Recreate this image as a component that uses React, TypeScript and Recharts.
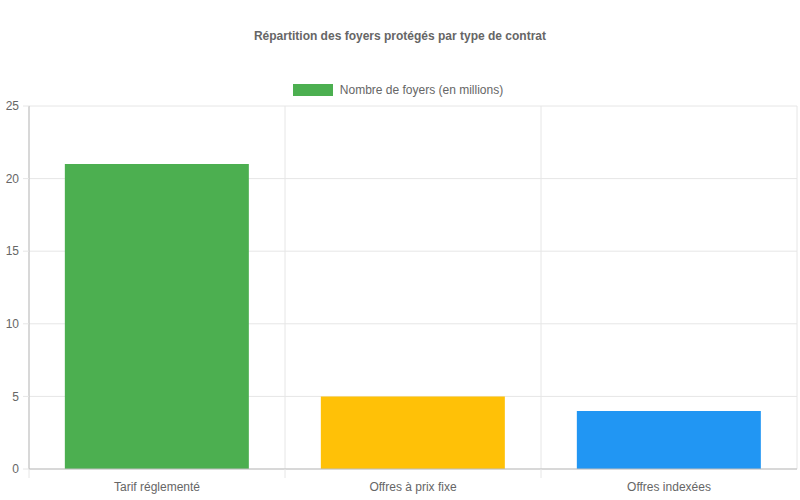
import React from 'react';
import { BarChart, Bar, XAxis, YAxis, CartesianGrid, Cell } from 'recharts';

const categories = ['Tarif réglementé', 'Offres à prix fixe', 'Offres indexées'];
const foyers = [21, 5, 4];
const barColors = ['#4CAF50', '#FFC107', '#2196F3'];
const yTicks = [0, 5, 10, 15, 20, 25];

const seriesName = 'Nombre de foyers (en millions)';
const title = 'Répartition des foyers protégés par type de contrat';

const data = categories.map((name, i) => ({ name, value: foyers[i] }));

const W = 800;
const H = 500;
const margin = { top: 106, right: 3, bottom: 0, left: 0 };
const yAxisWidth = 29;
const band = (W - margin.left - margin.right - yAxisWidth) / categories.length;

const FONT = '"Liberation Sans", Arial, sans-serif';
const GRID = '#e6e6e6';
const AXIS = '#bdbdbd';

// category labels plus the small tick marks on the band boundaries
const XTick = (props: any) => {
  const { x, y, payload } = props;
  return (
    <g>
      <line x1={x - band / 2} x2={x - band / 2} y1={y} y2={y + 9} stroke={GRID} />
      <text x={x} y={y + 22} textAnchor="middle" fill="#666" fontSize={12} fontFamily={FONT}>
        {payload.value}
      </text>
    </g>
  );
};

export default function App() {
  return (
    <div style={{ position: 'fixed', left: 0, top: 0, width: W, height: H, background: '#fff' }}>
      <div
        style={{
          position: 'absolute', top: 29, left: 0, width: W, textAlign: 'center',
          fontFamily: FONT, fontSize: 12, fontWeight: 'bold', color: '#666',
        }}
      >
        {title}
      </div>
      <div
        style={{
          position: 'absolute', top: 83, left: 0, width: W, display: 'flex', justifyContent: 'center',
          alignItems: 'center', fontFamily: FONT, fontSize: 12, color: '#666', lineHeight: '14px',
        }}
      >
        <span style={{ width: 40, height: 12, background: barColors[0], display: 'inline-block', marginRight: 7, marginLeft: -4 }} />
        <span>{seriesName}</span>
      </div>
      <BarChart width={W} height={H} data={data} margin={margin} barCategoryGap="14%">
        <CartesianGrid
          stroke={GRID}
          verticalCoordinatesGenerator={({ offset }: any) =>
            categories.map((_, i) => offset.left + (offset.width / categories.length) * i).concat([offset.left + offset.width])
          }
        />
        <XAxis
          dataKey="name"
          height={31}
          tickLine={false}
          tickSize={0}
          tickMargin={0}
          axisLine={{ stroke: AXIS }}
          tick={<XTick />}
          interval={0}
        />
        <YAxis
          width={yAxisWidth}
          domain={[0, 25]}
          ticks={yTicks}
          tickSize={6}
          tickMargin={4}
          tickLine={{ stroke: GRID }}
          axisLine={{ stroke: AXIS }}
          tick={{ fill: '#666', fontSize: 12, fontFamily: FONT }}
        />
        <Bar dataKey="value" name={seriesName} isAnimationActive={false}>
          {data.map((_, i) => (
            <Cell key={i} fill={barColors[i]} />
          ))}
        </Bar>
      </BarChart>
    </div>
  );
}
